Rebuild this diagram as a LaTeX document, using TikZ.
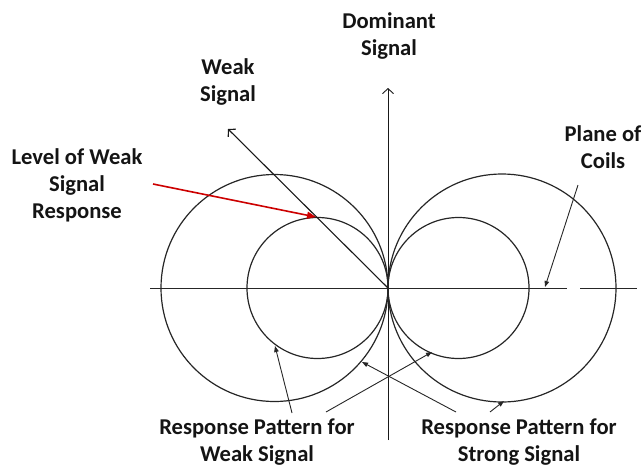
\documentclass[tikz,border=0pt]{standalone}
\usepackage{fontspec}
\setmainfont{Carlito}
\usetikzlibrary{arrows.meta}
\begin{document}
\begin{tikzpicture}[x=1pt,y=-1pt,
  lbl/.style={font=\bfseries\fontsize{22.6}{27}\selectfont, align=center, inner sep=0pt, text=black!92},
  curve/.style={line width=1.2pt, draw=black!85},
  axisline/.style={line width=0.9pt, draw=black!85},
  ptr/.style={-{Triangle[length=6pt,width=4.5pt]}, line width=0.9pt, draw=black!85},
  barb/.style={-{Straight Barb[length=5pt,width=11pt]}, line width=0.9pt, draw=black!90},
  redptr/.style={-{Triangle[length=9pt,width=7pt]}, line width=1.6pt, draw=red!80!black}]
\useasboundingbox (0,0) rectangle (642,469);

% coordinates
\coordinate (O) at (388,288);
\coordinate (hl) at (150,288);
\coordinate (hm) at (567,288);
\coordinate (hn) at (580,288);
\coordinate (hr) at (637,288);
\coordinate (vb) at (388,440);
\coordinate (vt) at (388,88);
\coordinate (ws) at (228,129);

% axes
\draw[axisline] (hl) -- (hm);
\draw[axisline] (hn) -- (hr);
\draw[barb] (vb) -- (vt);

% response patterns
\draw[curve] (274.5,288) circle[radius=113.5pt];
\draw[curve] (502,288) circle[radius=114pt];
\draw[curve] (317.5,288) circle[radius=70.5pt];
\draw[curve] (458.5,288) circle[radius=70.5pt];

% weak signal direction
\draw[barb, line width=1.1pt] (O) -- (ws);

% labels
\node[lbl] (dom) at (389,36) {Dominant\\Signal};
\node[lbl] (weak) at (228,81.5) {Weak\\Signal};
\node[lbl] (level) at (77,185) {Level of Weak\\Signal\\Response};
\node[lbl] (plane) at (603,147) {Plane of\\Coils};
\node[lbl] (rweak) at (257,442.5) {Response Pattern for\\Weak Signal};
\node[lbl] (rstrong) at (519,442.5) {Response Pattern for\\Strong Signal};

% pointer coordinates
\coordinate (lvS) at (153,184);
\coordinate (lvE) at (316,217);
\coordinate (plS) at (578,185);
\coordinate (plE) at (545,287);
\coordinate (w1S) at (292,413);
\coordinate (w1E) at (275,346);
\coordinate (w2S) at (326,412);
\coordinate (w2E) at (432,352);
\coordinate (s1S) at (456,412);
\coordinate (s1E) at (362,362);
\coordinate (s2S) at (490,412);
\coordinate (s2E) at (504,401);

\draw[redptr] (lvS) -- (lvE);
\draw[ptr] (plS) -- (plE);
\draw[ptr] (w1S) -- (w1E);
\draw[ptr] (w2S) -- (w2E);
\draw[ptr] (s1S) -- (s1E);
\draw[ptr] (s2S) -- (s2E);
\end{tikzpicture}
\end{document}
